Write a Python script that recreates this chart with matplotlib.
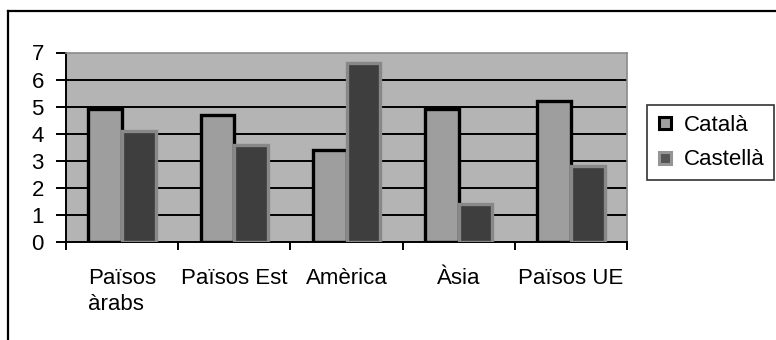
import matplotlib
matplotlib.use("Agg")
import matplotlib.pyplot as plt
from matplotlib.lines import Line2D
import numpy as np

categories = ["Països\nàrabs", "Països Est", "Amèrica", "Àsia", "Països UE"]
catala = [4.9, 4.7, 3.4, 4.9, 5.2]
castella = [4.1, 3.6, 6.6, 1.4, 2.8]
yticks = [0, 1, 2, 3, 4, 5, 6, 7]

plt.rcParams["font.family"] = ["Liberation Sans", "DejaVu Sans"]

W, H = 776, 340
fig = plt.figure(figsize=(W / 100, H / 100), dpi=100)
fig.patch.set_facecolor("white")

# outer chart frame (top and left visible)
fig.add_artist(Line2D([8 / W, 8 / W], [0, 1 - 11 / H], transform=fig.transFigure,
                      color="black", lw=1.6))
fig.add_artist(Line2D([8 / W, 1], [1 - 11 / H, 1 - 11 / H], transform=fig.transFigure,
                      color="black", lw=1.6))

ax = fig.add_axes([66 / W, (H - 242) / H, (627 - 66) / W, (242 - 52.5) / H])
ax.set_facecolor("#b4b4b4")

x = np.arange(len(categories))
bw = 0.3
ax.bar(x - bw / 2, catala, bw, color="#9e9e9e", edgecolor="black", linewidth=2.4, zorder=3)
ax.bar(x + bw / 2, castella, bw, color="#3e3e3e", edgecolor="#888888", linewidth=2.4, zorder=4)

ax.set_xlim(-0.5, len(categories) - 0.5)
ax.set_ylim(0, 7)
ax.set_yticks(yticks)
for y in yticks[1:-1]:
    ax.axhline(y, color="black", lw=1.4, zorder=1)

ax.set_xticks(x)
ax.set_xticklabels(categories, multialignment="left", fontsize=16, linespacing=1.3)
ax.tick_params(axis="x", which="major", length=0, pad=19)
ax.set_xticks(np.arange(len(categories) + 1) - 0.5, minor=True)
ax.tick_params(axis="x", which="minor", length=6, width=1.4, direction="out")
ax.tick_params(axis="y", length=7, width=1.4, labelsize=16, pad=9)

for side in ["top", "right"]:
    ax.spines[side].set_color("#8a8a8a")
    ax.spines[side].set_linewidth(1.2)
ax.spines["left"].set_linewidth(1.4)
ax.spines["bottom"].set_linewidth(1.4)

handles = [
    Line2D([], [], linestyle="none", marker="s", markersize=8, markerfacecolor="#9e9e9e",
           markeredgecolor="black", markeredgewidth=2.2),
    Line2D([], [], linestyle="none", marker="s", markersize=8, markerfacecolor="#555555",
           markeredgecolor="#959595", markeredgewidth=2.2),
]
leg = fig.legend(handles, ["Català", "Castellà"], loc="upper left",
                 bbox_to_anchor=(647 / W, 1 - 105 / H), fontsize=16, frameon=True,
                 fancybox=False, handlelength=0.7, handletextpad=0.5, borderpad=0.45,
                 labelspacing=0.6, borderaxespad=0)
leg.get_frame().set_edgecolor("black")
leg.get_frame().set_linewidth(1.2)

fig.savefig("out.png", dpi=100)
